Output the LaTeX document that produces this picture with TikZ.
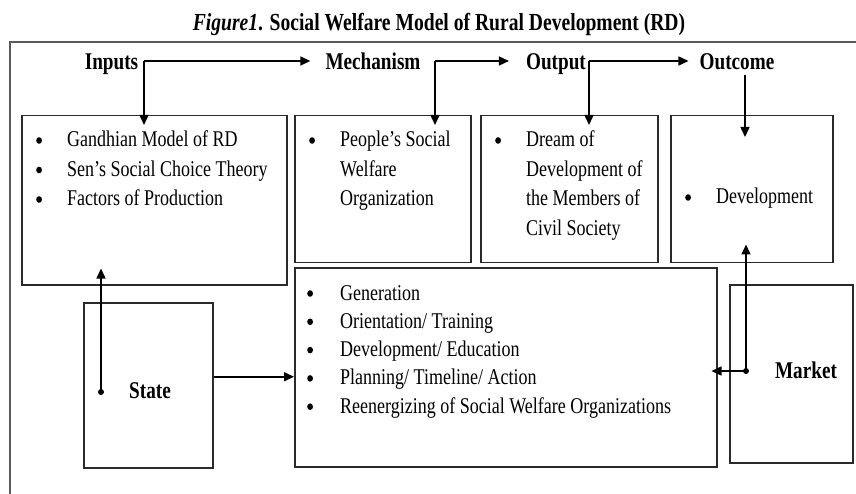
\documentclass[tikz,border=0pt]{standalone}
\usepackage{fontspec}
\setmainfont{Liberation Serif}[FakeStretch=0.8]
\usetikzlibrary{arrows.meta,calc}
\definecolor{boxline}{HTML}{2A2A2A}
\definecolor{frameline}{HTML}{5A5A5A}
% list bullet: a solid dot sitting at mid-letter height
\newcommand\bul{\tikz[baseline=0pt]\fill[black] (3pt,6.5pt) ellipse[x radius=2.9pt,y radius=3.3pt];}
\begin{document}
\begin{tikzpicture}[x=1pt,y=-1pt,
  box/.style={draw=boxline,line width=1.5pt,rectangle,inner sep=0pt,anchor=north west},
  hdr/.style={font=\fontsize{24}{28}\selectfont\bfseries,inner sep=0pt,anchor=base},
  lbl/.style={font=\fontsize{24}{28}\selectfont\bfseries,inner sep=0pt},
  txt/.style={font=\fontsize{22.5}{29.5}\selectfont,inner sep=0pt,anchor=base west},
  arr/.style={line width=1.5pt,-{Triangle[length=10pt,width=9pt]}}]
\useasboundingbox (0,0) rectangle (856,494);

% title and outer frame
\node[font=\fontsize{24.5}{28}\selectfont\bfseries,inner sep=0pt,anchor=base] (title) at (439,31)
  {\textit{Figure1}. Social Welfare Model of Rural Development (RD)};
\draw[frameline,line width=1.6pt] (856,42) -| (10,494);

% stage headings
\node[hdr] (inputs)  at (111.5,70) {Inputs};
\node[hdr] (mech)    at (373,70)   {Mechanism};
\node[hdr] (output)  at (556,70)   {Output};
\node[hdr] (outcome) at (737,70)   {Outcome};

% boxes
\node[box,minimum width=265pt,minimum height=169pt] (inbox)   at (21,115)  {};
\node[box,minimum width=176pt,minimum height=147pt] (mechbox) at (294,115) {};
\node[box,minimum width=177pt,minimum height=147pt] (outbox)  at (480,115) {};
\node[box,minimum width=162pt,minimum height=147pt] (ocbox)   at (670,115) {};
\node[box,minimum width=422pt,minimum height=199pt] (bigbox)  at (294,267) {};
\node[box,minimum width=129pt,minimum height=165pt] (statebox) at (83,302) {};
\node[box,minimum width=123pt,minimum height=178pt] (marketbox) at (729,284) {};

% box contents
\node[txt] (intxt) at (36,147) {\begin{tabular}[t]{@{}p{31pt}@{}l@{}}
  \bul & Gandhian Model of RD\\
  \bul & Sen’s Social Choice Theory\\
  \bul & Factors of Production
\end{tabular}};
\node[txt] (mechtxt) at (309,147) {\begin{tabular}[t]{@{}p{31pt}@{}l@{}}
  \bul & People’s Social\\
  & Welfare\\
  & Organization
\end{tabular}};
\node[txt] (outtxt) at (495,147) {\begin{tabular}[t]{@{}p{31pt}@{}l@{}}
  \bul & Dream of\\
  & Development of\\
  & the Members of\\
  & Civil Society
\end{tabular}};
\node[txt] (octxt) at (685,204) {\begin{tabular}[t]{@{}p{31pt}@{}l@{}}
  \bul & Development
\end{tabular}};
\node[txt,font=\fontsize{22.5}{28.3}\selectfont] (bigtxt) at (307,300) {\begin{tabular}[t]{@{}p{33pt}@{}l@{}}
  \bul & Generation\\
  \bul & Orientation/ Training\\
  \bul & Development/ Education\\
  \bul & Planning/ Timeline/ Action\\
  \bul & Reenergizing of Social Welfare Organizations
\end{tabular}};
\node[lbl] (state)  at (150,391) {State};
\node[lbl] (market) at (806,370) {Market};

% junctions and dots
\coordinate (j1) at (144,61);
\coordinate (j2) at (435,61);
\coordinate (j3) at (589,61);
\coordinate (oc1) at (745,75);
\coordinate (sdot) at (101,392);
\coordinate (mdot) at (746,371);
\coordinate (sarr) at ([yshift=8.5pt]statebox.east);

% connectors
\draw[arr] (j1) -- ($(mech.west |- j1)+(-15,0)$);
\draw[arr] (j1) -- ($(j1 |- inbox.north)+(0,10)$);
\draw[arr] (j2) -- ($(output.west |- j2)+(-17,0)$);
\draw[arr] (j2) -- ($(j2 |- mechbox.north)+(0,10)$);
\draw[arr] (j3) -- ($(outcome.west |- j3)+(-11,0)$);
\draw[arr] (j3) -- ($(j3 |- outbox.north)+(0,10)$);
\draw[arr] (oc1) -- ($(oc1 |- ocbox.north)+(0,22)$);
\draw[arr] (sdot) -- ($(sdot |- inbox.south)+(0,-17)$);
\draw[arr] (sarr) -- (sarr -| bigbox.west);
\draw[arr] (mdot) -- ($(mdot -| bigbox.east)+(-6,0)$);
\draw[arr] (mdot) -- ($(mdot |- ocbox.south)+(0,-19)$);
\fill (sdot) circle[radius=3pt];
\fill (mdot) circle[radius=3pt];
\end{tikzpicture}
\end{document}
